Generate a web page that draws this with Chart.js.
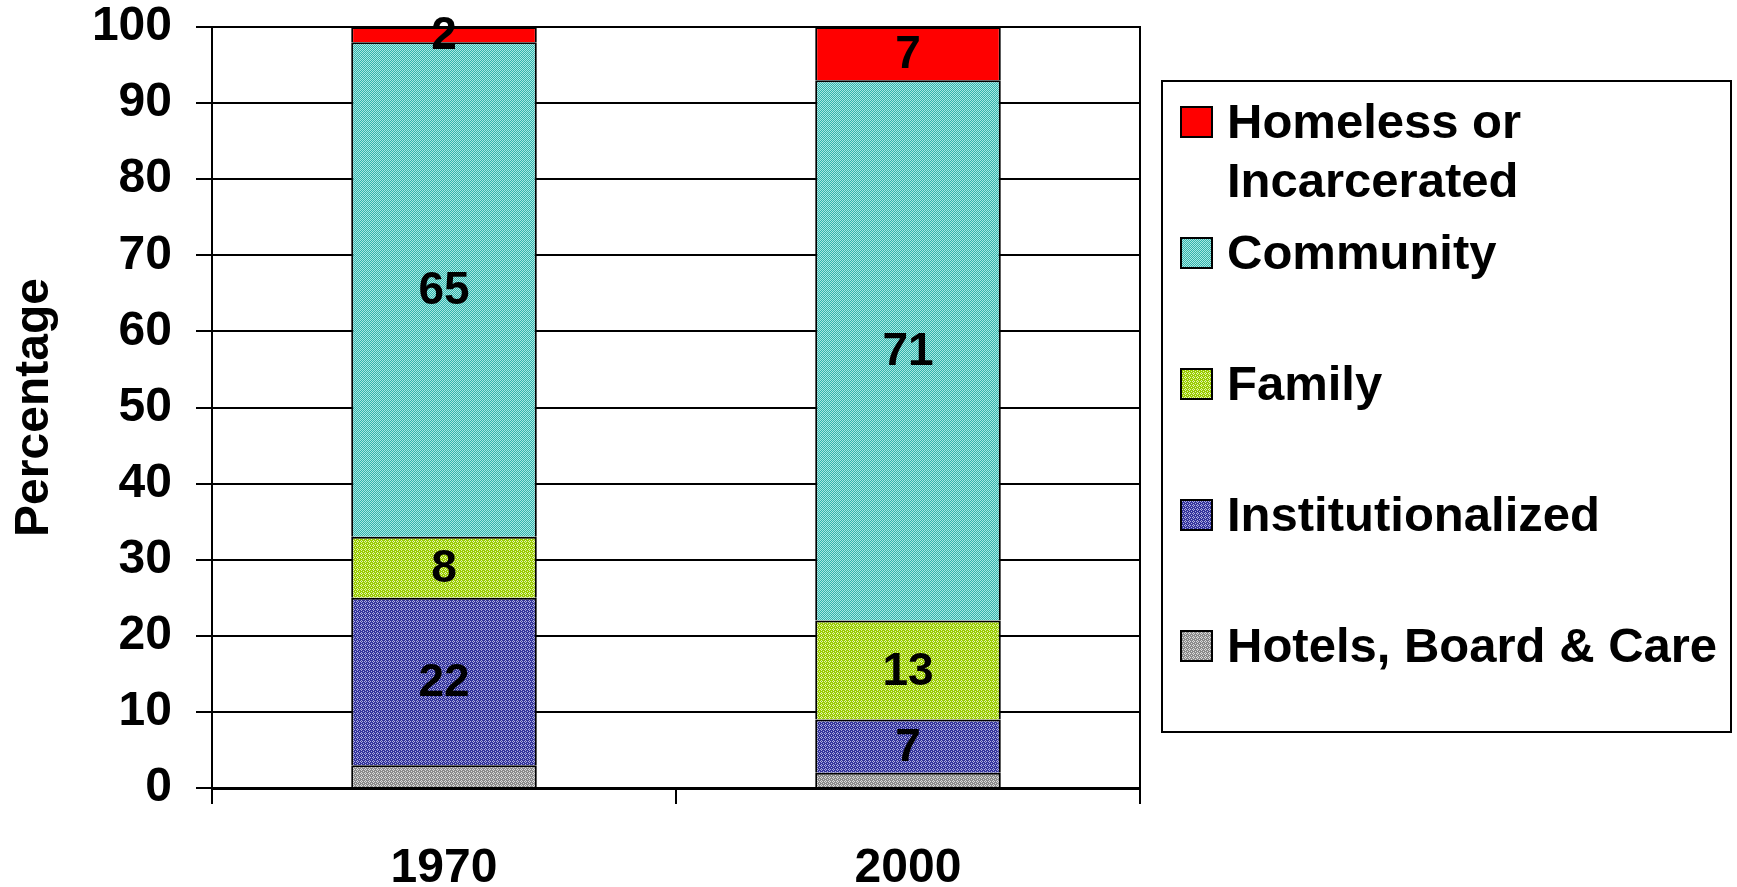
<!DOCTYPE html>
<html>
<head>
<meta charset="utf-8">
<script src="https://cdn.jsdelivr.net/npm/chart.js@4.4.1/dist/chart.umd.min.js"></script>
<style>
  html, body { margin: 0; padding: 0; background: #fff; }
  #wrap { width: 1737px; height: 887px; }
</style>
</head>
<body>
<div id="wrap"><canvas id="living-chart"></canvas></div>
<script>
/* Data */
let years = ['1970', '2000']
let hotelsBoardCare = [3, 2]
let institutionalized = [22, 7]
let family = [8, 13]
let community = [65, 71]
let homelessOrIncarcerated = [2, 7]

let fontFamily = '"Liberation Sans", Arial, Helvetica, sans-serif'

let canvas = document.querySelector('#living-chart')
let ctx = canvas.getContext('2d')

// Small pixel tiles imitating the old spreadsheet fill patterns
function makePattern(base, light, cells) {
    let tile = document.createElement('canvas')
    tile.width = 4
    tile.height = 4
    let t = tile.getContext('2d')
    t.fillStyle = base
    t.fillRect(0, 0, 4, 4)
    t.fillStyle = light
    cells.forEach(function(c) { t.fillRect(c[0], c[1], 1, 1) })
    return ctx.createPattern(tile, 'repeat')
}

let checker = [[0, 0], [2, 0], [1, 1], [3, 1], [0, 2], [2, 2], [1, 3], [3, 3]]
let diamond = [[1, 0], [0, 1], [2, 1], [1, 2], [3, 3]]

let communityFill = makePattern('#33b3ab', '#a8e8e4', checker)
let familyFill = makePattern('#99cc00', '#e4f4b0', diamond)
let institutionFill = makePattern('#34349c', '#aeaee0', diamond)
let hotelsFill = makePattern('#8a8a8a', '#dcdcdc', diamond)

// Values printed in the middle of each segment
let segmentLabels = {
    id: 'segmentLabels',
    afterDatasetsDraw(chart) {
        let c = chart.ctx
        c.save()
        c.font = 'bold 46px ' + fontFamily
        c.fillStyle = '#000'
        c.textAlign = 'center'
        c.textBaseline = 'middle'
        chart.data.datasets.forEach(function(ds, i) {
            if (!ds.showValue) return
            chart.getDatasetMeta(i).data.forEach(function(bar, j) {
                let p = bar.getCenterPoint()
                c.fillText(ds.data[j], p.x, p.y + 2)
            })
        })
        c.restore()
    }
}

// Boxed legend on the right, top entry = top segment
let boxLegend = {
    id: 'boxLegend',
    afterDraw(chart) {
        let c = chart.ctx
        let box = { x: 1162, y: 81, w: 569, h: 651 }
        let rows = [122, 253, 384, 515, 646]
        c.save()
        c.strokeStyle = '#000'
        c.lineWidth = 2
        c.strokeRect(box.x, box.y, box.w, box.h)
        c.font = 'bold 49px ' + fontFamily
        c.textBaseline = 'middle'
        let items = chart.data.datasets.slice().reverse()
        items.forEach(function(ds, i) {
            let y = rows[i]
            c.fillStyle = ds.backgroundColor
            c.fillRect(1181, y - 15, 31, 30)
            c.strokeStyle = '#000'
            c.lineWidth = 2
            c.strokeRect(1181, y - 15, 31, 30)
            c.fillStyle = '#000'
            let lines = Array.isArray(ds.legendLines) ? ds.legendLines : [ds.label]
            lines.forEach(function(line, k) {
                c.fillText(line, 1227, y + 2 + k * 59)
            })
        })
        c.restore()
    }
}

let livingChart = new Chart(ctx, {
    type: 'bar',
    data: {
        labels: years,
        datasets: [
            { label: 'Hotels, Board & Care', data: hotelsBoardCare, backgroundColor: hotelsFill, showValue: false },
            { label: 'Institutionalized', data: institutionalized, backgroundColor: institutionFill, showValue: true },
            { label: 'Family', data: family, backgroundColor: familyFill, showValue: true },
            { label: 'Community', data: community, backgroundColor: communityFill, showValue: true },
            { label: 'Homeless or Incarcerated', legendLines: ['Homeless or', 'Incarcerated'], data: homelessOrIncarcerated, backgroundColor: '#ff0000', showValue: true }
        ]
    },
    options: {
        responsive: true,
        maintainAspectRatio: false,
        animation: false,
        events: [],
        layout: { padding: { top: 27, right: 597, left: 0, bottom: 0 } },
        datasets: {
            bar: {
                borderColor: '#000',
                borderWidth: 2,
                categoryPercentage: 1,
                barPercentage: 0.4
            }
        },
        plugins: {
            legend: { display: false },
            tooltip: { enabled: false }
        },
        scales: {
            x: {
                stacked: true,
                grid: { display: true, drawOnChartArea: false, offset: true, tickLength: 16, color: '#000', lineWidth: 2 },
                border: { display: true, color: '#000', width: 3 },
                ticks: { color: '#000', padding: 36, font: { family: fontFamily, size: 48, weight: 'bold' } },
                afterFit(scale) { scale.height = 99 }
            },
            y: {
                stacked: true,
                min: 0,
                max: 100,
                // tiny lineHeight keeps the top label from pushing the plot down
                ticks: { stepSize: 10, color: '#000', padding: 24, font: { family: fontFamily, size: 48, weight: 'bold', lineHeight: 0.05 } },
                grid: { color: '#000', lineWidth: 2, tickLength: 16 },
                border: { display: true, color: '#000', width: 2 },
                title: { display: true, text: 'Percentage', color: '#000', padding: { top: 6, bottom: 0 }, font: { family: fontFamily, size: 48, weight: 'bold' } },
                afterFit(scale) { scale.width = 212 }
            },
            yRight: {
                position: 'right',
                min: 0,
                max: 100,
                ticks: { display: false },
                grid: { display: false },
                border: { display: true, color: '#000', width: 2 },
                afterFit(scale) { scale.width = 0 }
            }
        }
    },
    plugins: [segmentLabels, boxLegend]
})
</script>
</body>
</html>
